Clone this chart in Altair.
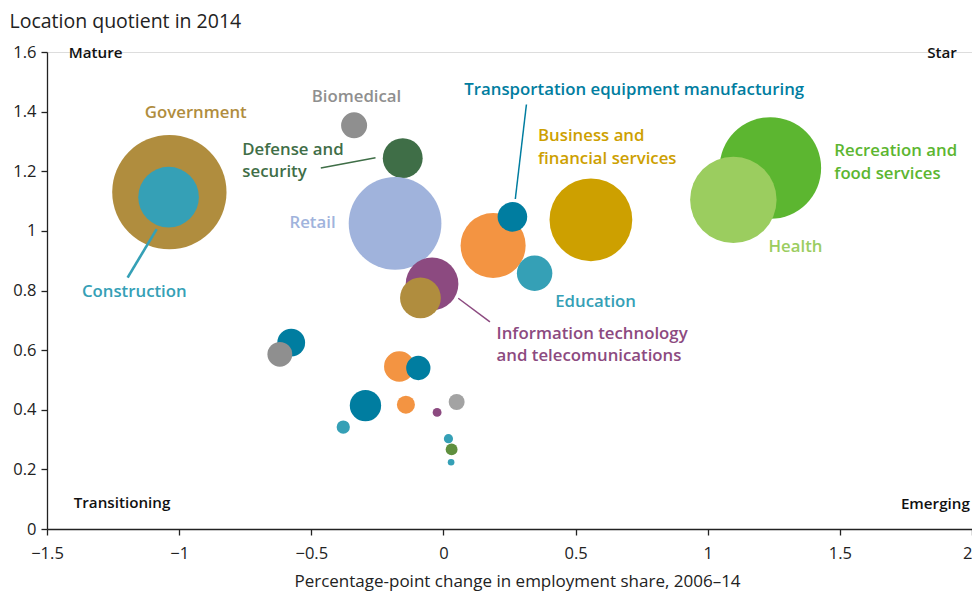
import altair as alt
import pandas as pd
import math

# ---------------- data ----------------
bubble_group = ["gov", "teal", "gray", "defense", "retail", "purple", "gov", "orange",
                "transport", "teal", "business", "recreation", "health",
                "transport", "gray", "orange", "transport", "transport", "orange",
                "purple", "gray2", "teal", "teal", "green", "teal"]
emp_change = [-1.037, -1.040, -0.338, -0.154, -0.183, -0.043, -0.087, 0.188,
              0.261, 0.345, 0.558, 1.237, 1.097,
              -0.576, -0.619, -0.167, -0.095, -0.295, -0.142,
              -0.024, 0.050, -0.379, 0.019, 0.031, 0.029]
location_quotient = [1.130, 1.113, 1.354, 1.244, 1.025, 0.822, 0.775, 0.951,
                     1.047, 0.858, 1.037, 1.211, 1.104,
                     0.625, 0.586, 0.545, 0.540, 0.414, 0.417,
                     0.391, 0.426, 0.342, 0.303, 0.267, 0.224]
employment = [4160, 1170, 216, 506, 2735, 882, 529, 1347,
              279, 400, 2181, 3283, 2381,
              246, 196, 296, 188, 313, 104,
              25, 81, 56, 27, 45, 14]

group_names = ["gov", "teal", "gray", "defense", "retail", "purple", "orange",
               "transport", "business", "recreation", "health", "green", "gray2", "black"]
bubble_colors = ["#B08D3E", "#35A0B6", "#8F8F8F", "#3F6E47", "#A0B3DC", "#8C4A80", "#F39442",
                 "#007DA0", "#CDA000", "#5CB630", "#9BCD5F", "#5F8F3E", "#A3A3A3", "#111111"]
label_colors = ["#B08D3E", "#35A0B6", "#8A8A8A", "#3F6E47", "#7B93C8", "#8C4A80", "#F39442",
                "#007DA0", "#CDA000", "#5CB630", "#8DBF55", "#5F8F3E", "#A3A3A3", "#111111"]

# sector labels (one row per text line)
label_text = ["Defense and", "security", "Transportation equipment manufacturing",
              "Business and", "financial services", "Recreation and", "food services",
              "Health", "Education", "Information technology", "and telecomunications",
              "Construction"]
label_group = ["defense", "defense", "transport", "business", "business", "recreation",
               "recreation", "health", "teal", "purple", "purple", "teal"]
label_x = [-0.761, -0.761, 0.079, 0.358, 0.358, 1.479, 1.479, 1.230, 0.423, 0.201, 0.201, -1.368]
label_y = [1.270, 1.196, 1.472, 1.317, 1.241, 1.267, 1.191, 0.947, 0.762, 0.654, 0.580, 0.796]

center_text = ["Government", "Biomedical"]
center_group = ["gov", "gray"]
center_x = [-0.937, -0.329]
center_y = [1.397, 1.449]

right_text = ["Retail"]
right_group = ["retail"]
right_x = [-0.408]
right_y = [1.025]

quad_text = ["Mature", "Transitioning", "Star", "Emerging"]
quad_align = ["left", "left", "right", "right"]
quad_x = [-1.418, -1.399, 1.943, 1.992]
quad_y = [1.597, 0.087, 1.598, 0.085]

# leader lines
line_group = ["teal", "defense", "transport", "purple"]
line_x1 = [-1.195, -0.464, 0.314, 0.056]
line_y1 = [0.843, 1.211, 1.424, 0.774]
line_x2 = [-1.085, -0.257, 0.272, 0.176]
line_y2 = [1.006, 1.245, 1.107, 0.695]
line_width = [2.6, 1.5, 1.5, 1.5]

x_ticks = [-1.5, -1, -0.5, 0, 0.5, 1, 1.5, 2]
y_ticks = [0, 0.2, 0.4, 0.6, 0.8, 1, 1.2, 1.4, 1.6]

# ---------------- chart ----------------
FONT = "Open Sans"
bubbles = pd.DataFrame({"group": bubble_group, "x": emp_change, "y": location_quotient,
                        "emp": employment, "order": list(range(len(employment)))})
labels = pd.DataFrame({"text": label_text, "group": label_group, "x": label_x, "y": label_y})
clabels = pd.DataFrame({"text": center_text, "group": center_group, "x": center_x, "y": center_y})
rlabels = pd.DataFrame({"text": right_text, "group": right_group, "x": right_x, "y": right_y})
quads = pd.DataFrame({"text": quad_text, "align": quad_align, "x": quad_x, "y": quad_y})
lines = pd.DataFrame({"group": line_group, "x": line_x1, "y": line_y1, "x2": line_x2,
                      "y2": line_y2, "w": line_width})

W, H = 925, 477

xscale = alt.Scale(domain=[-1.5, 2], nice=False, zero=False)
yscale = alt.Scale(domain=[0, 1.6], nice=False, zero=False)
bcol = alt.Scale(domain=group_names, range=bubble_colors)
lcol = alt.Scale(domain=group_names, range=label_colors)
maxe = max(employment)

xaxis = alt.Axis(values=x_ticks, format=".1~f", grid=False, domainColor="#222",
                 domainWidth=1.3, tickColor="#222", tickWidth=1.3, tickSize=6,
                 labelFont=FONT, labelFontSize=16.5, labelColor="#222", labelPadding=10,
                 labelAlign=alt.expr("datum.value == 2 ? 'right' : 'center'"),
                 title="Percentage-point change in employment share, 2006–14",
                 titleFont=FONT, titleFontSize=17, titleFontWeight="normal",
                 titleColor="#222", titleX=470, titleY=52, titleAlign="center",
                 titleBaseline="middle", labelFlush=False)
yaxis = alt.Axis(values=y_ticks, format=".1~f", grid=False, domainColor="#222",
                 domainWidth=1.3, tickColor="#222", tickWidth=1.3, tickSize=6,
                 labelFont=FONT, labelFontSize=16.5, labelColor="#222", labelPadding=5,
                 title="Location quotient in 2014", titleFont=FONT, titleFontSize=19.5,
                 titleFontWeight="normal", titleColor="#222", titleAngle=0,
                 titleAlign="left", titleBaseline="middle", titleX=-38, titleY=-31,
                 labelFlush=False)

base = alt.Chart(bubbles)
pts = base.mark_circle(opacity=1, stroke=None).encode(
    x=alt.X("x:Q", scale=xscale, axis=xaxis),
    y=alt.Y("y:Q", scale=yscale, axis=yaxis),
    size=alt.Size("emp:Q", scale=alt.Scale(type="linear", domain=[0, maxe],
                                           range=[0, maxe * math.pi]), legend=None),
    color=alt.Color("group:N", scale=bcol, legend=None),
    order=alt.Order("order:Q"),
)

rules = alt.Chart(lines).mark_rule(strokeCap="butt").encode(
    x="x:Q", y="y:Q", x2="x2:Q", y2="y2:Q",
    color=alt.Color("group:N", scale=lcol, legend=None),
    strokeWidth=alt.StrokeWidth("w:Q", scale=None),
)

def txt(df, align):
    return alt.Chart(df).mark_text(align=align, baseline="middle", font=FONT,
                                   fontSize=16.8, fontWeight=600).encode(
        x="x:Q", y="y:Q", text="text:N",
        color=alt.Color("group:N", scale=lcol, legend=None))

quad_left = alt.Chart(quads).transform_filter("datum.align == 'left'").mark_text(
    align="left", baseline="middle", font=FONT, fontSize=15.2, fontWeight=600,
    color="#111").encode(x="x:Q", y="y:Q", text="text:N")
quad_right = alt.Chart(quads).transform_filter("datum.align == 'right'").mark_text(
    align="right", baseline="middle", font=FONT, fontSize=15.2, fontWeight=600,
    color="#111").encode(x="x:Q", y="y:Q", text="text:N")

chart = alt.layer(
    pts, rules, txt(labels, "left"), txt(clabels, "center"), txt(rlabels, "right"),
    quad_left, quad_right
).properties(
    width=W, height=H,
    autosize=alt.AutoSizeParams(type="none"),
    padding={"left": 39, "top": 44, "right": 0, "bottom": 64},
).configure_view(stroke=None).configure(background="white")

chart.save("out.html", embed_options={"renderer": "svg", "actions": False})
